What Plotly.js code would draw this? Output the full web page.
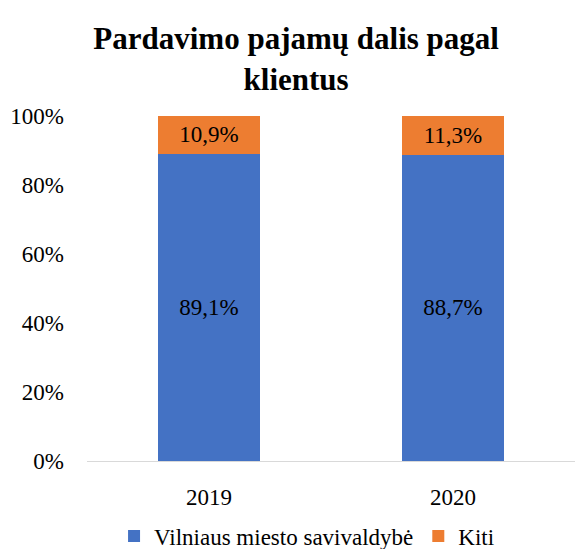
<!DOCTYPE html>
<html>
<head>
<meta charset="utf-8">
<script src="https://cdn.plot.ly/plotly-3.0.1.min.js"></script>
<style>html,body{margin:0;padding:0;background:#fff;}#chart{width:575px;height:549px;}</style>
</head>
<body>
<div id="chart"></div>
<script>
const years = ['2019', '2020'];
const vilnius = [0.891, 0.887];
const kiti = [0.109, 0.113];
const seriesNames = ['Vilniaus miesto savivaldybė', 'Kiti'];
const fmt = v => (v * 100).toFixed(1).replace('.', ',') + '%';
const font = 'Liberation Serif';

const traces = [
  {type: 'bar', x: years, y: vilnius, name: seriesNames[0], marker: {color: '#4472C4'},
   text: vilnius.map(fmt), textposition: 'inside', insidetextanchor: 'middle', textangle: 0,
   textfont: {family: font, size: 23, color: '#000'}, hoverinfo: 'none'},
  {type: 'bar', x: years, y: kiti, name: seriesNames[1], marker: {color: '#ED7D31'},
   text: kiti.map(fmt), textposition: 'inside', insidetextanchor: 'middle', textangle: 0,
   textfont: {family: font, size: 23, color: '#000'}, hoverinfo: 'none'}
];

const layout = {
  width: 575, height: 549,
  barmode: 'stack', bargap: 0.585,
  margin: {l: 87, r: 0, t: 116, b: 88, autoexpand: false},
  paper_bgcolor: '#fff', plot_bgcolor: '#fff',
  font: {family: font, size: 23, color: '#000'},
  title: {text: '<b>Pardavimo pajamų dalis pagal<br>klientus</b>', x: 0.515, xanchor: 'center',
          y: 0.91, yanchor: 'middle', font: {family: font, size: 31, color: '#000'}},
  xaxis: {showgrid: false, zeroline: false, showline: true, linecolor: '#d9d9d9', linewidth: 1,
          ticks: '', ticklabelstandoff: 15, tickfont: {family: font, size: 23, color: '#000'}},
  yaxis: {range: [0, 1], dtick: 0.2, tickformat: '.0%', showgrid: false, zeroline: false,
          showline: false, ticks: '', ticklabelstandoff: 22, tickfont: {family: font, size: 23, color: '#000'}},
  legend: {orientation: 'h', x: 0.534, xref: 'container', xanchor: 'center', y: -0.155, yanchor: 'top',
           itemwidth: 30, font: {family: font, size: 23, color: '#000'}, traceorder: 'normal'},
  showlegend: true
};

Plotly.newPlot('chart', traces, layout, {displayModeBar: false, staticPlot: true});
</script>
</body>
</html>
